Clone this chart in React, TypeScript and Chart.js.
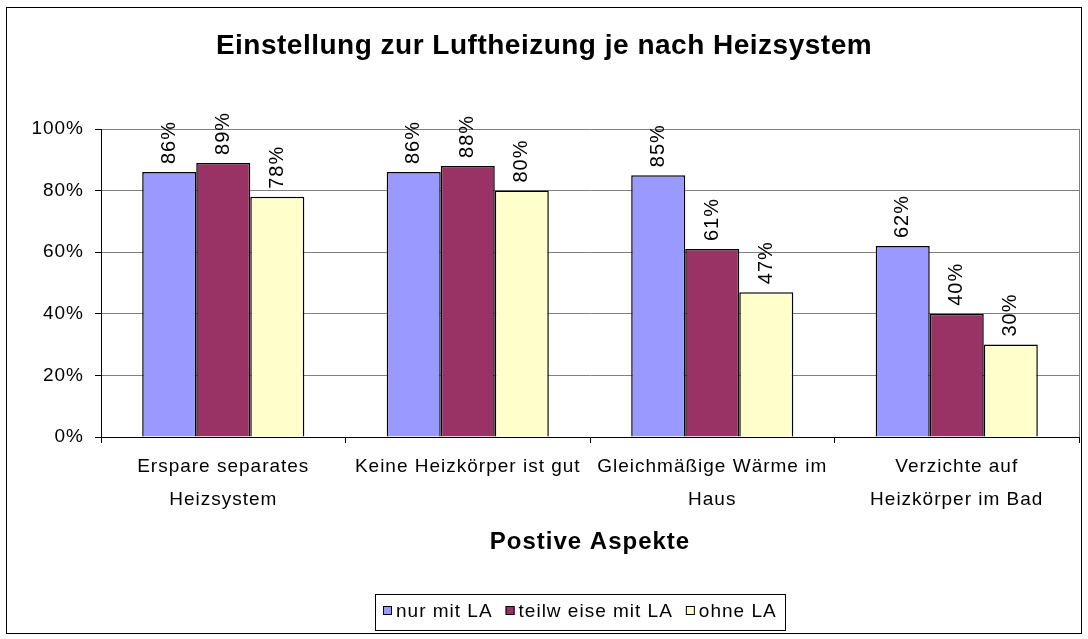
import React, { useEffect, useRef } from "react";
import { Chart, registerables } from "chart.js";

Chart.register(...registerables);

const categories: string[][] = [
  ["Erspare separates", "Heizsystem"],
  ["Keine Heizkörper ist gut"],
  ["Gleichmäßige Wärme im", "Haus"],
  ["Verzichte auf", "Heizkörper im Bad"],
];
const seriesNames = ["nur mit LA", "teilw eise mit LA", "ohne LA"];
const nurMitLA = [86, 86, 85, 62];
const teilweiseMitLA = [89, 88, 61, 40];
const ohneLA = [78, 80, 47, 30];
const seriesColors = ["#9999FF", "#993366", "#FFFFCC"];
const yTickStep = 20;
const yMax = 100;
const chartTitle = "Einstellung zur Luftheizung je nach Heizsystem";
const xAxisTitle = "Postive Aspekte";

const FONT = '"Liberation Sans", Arial, Helvetica, sans-serif';
const W = 1088;
const H = 639;
const LS = "1px";

const decorPlugin = {
  id: "decor",
  beforeUpdate(chart: any) {
    chart.ctx.letterSpacing = LS;
  },
  beforeDraw(chart: any) {
    const ctx = chart.ctx;
    ctx.letterSpacing = LS;
    ctx.save();
    ctx.fillStyle = "#fff";
    ctx.fillRect(0, 0, chart.width, chart.height);
    ctx.restore();
  },
  afterDatasetsDraw(chart: any) {
    const ctx = chart.ctx;
    chart.data.datasets.forEach((ds: any, i: number) => {
      const meta = chart.getDatasetMeta(i);
      meta.data.forEach((bar: any, j: number) => {
        ctx.save();
        ctx.translate(bar.x, bar.y - 8);
        ctx.rotate(-Math.PI / 2);
        ctx.font = `20px ${FONT}`;
        ctx.letterSpacing = LS;
        ctx.textAlign = "left";
        ctx.textBaseline = "middle";
        ctx.fillStyle = "#000";
        ctx.fillText(`${ds.data[j]}%`, 0, 0);
        ctx.restore();
      });
    });
  },
  afterDraw(chart: any) {
    const ctx = chart.ctx;
    const area = chart.chartArea;
    ctx.save();
    // plot area right border
    ctx.strokeStyle = "#808080";
    ctx.lineWidth = 1;
    ctx.beginPath();
    ctx.moveTo(Math.round(area.right) + 0.5, area.top);
    ctx.lineTo(Math.round(area.right) + 0.5, area.bottom);
    ctx.stroke();

    // title
    ctx.font = `bold 28px ${FONT}`;
    ctx.letterSpacing = "0.5px";
    ctx.textAlign = "center";
    ctx.textBaseline = "middle";
    ctx.fillStyle = "#000";
    ctx.fillText(chartTitle, W / 2, 46);

    // legend
    ctx.font = `19px ${FONT}`;
    ctx.letterSpacing = LS;
    ctx.textAlign = "left";
    const box = 9;
    const gapBT = 4;
    const gapItems = 13;
    const widths = seriesNames.map((n) => ctx.measureText(n).width);
    const total =
      widths.reduce((a, w) => a + box + gapBT + w, 0) + gapItems * (seriesNames.length - 1);
    const pad = 8;
    const legendCenter = 580;
    let x = Math.round(legendCenter - total / 2);
    ctx.strokeStyle = "#000";
    ctx.strokeRect(x - pad + 0.5, 594.5, Math.round(total + 2 * pad), 36);
    const cy = 612;
    seriesNames.forEach((n, i) => {
      ctx.fillStyle = seriesColors[i];
      ctx.fillRect(x, cy - 6, box, box);
      ctx.strokeStyle = "#000";
      ctx.strokeRect(x + 0.5, cy - 6 + 0.5, box - 1, box - 1);
      ctx.fillStyle = "#000";
      ctx.fillText(n, x + box + gapBT, cy);
      x += box + gapBT + widths[i] + gapItems;
    });

    // outer border
    ctx.strokeStyle = "#000";
    ctx.lineWidth = 1;
    ctx.strokeRect(6.5, 7.5, 1075, 626);
    ctx.restore();
  },
};

export default function App() {
  const ref = useRef<HTMLCanvasElement>(null);
  useEffect(() => {
    if (!ref.current) return;
    Chart.defaults.font.family = FONT;
    Chart.defaults.color = "#000";
    const chart = new Chart(ref.current, {
      type: "bar",
      data: {
        labels: categories,
        datasets: [nurMitLA, teilweiseMitLA, ohneLA].map((d, i) => ({
          label: seriesNames[i],
          data: d,
          backgroundColor: seriesColors[i],
          borderColor: "#000",
          borderWidth: 1.5,
          categoryPercentage: 0.663,
          barPercentage: 1,
        })),
      },
      options: {
        responsive: false,
        animation: false,
        devicePixelRatio: 1,
        layout: { padding: { top: 129, bottom: 79, left: 0, right: 9 } },
        plugins: {
          legend: { display: false },
          title: { display: false },
          tooltip: { enabled: false },
        },
        scales: {
          x: {
            grid: {
              offset: true,
              drawOnChartArea: false,
              drawTicks: true,
              tickLength: 6,
              color: "#000",
              tickColor: "#000",
            },
            border: { display: true, color: "#000", width: 1 },
            ticks: {
              font: { size: 19, lineHeight: "33px" as any },
              padding: 7.5,
              maxRotation: 0,
              autoSkip: false,
              color: "#000",
            },
            title: {
              display: true,
              text: xAxisTitle,
              font: { size: 24, weight: "bold" },
              color: "#000",
              padding: { top: 4, bottom: 3 },
            },
            afterFit: (s: any) => {
              s.height = 123;
            },
          },
          y: {
            min: 0,
            max: yMax,
            grid: {
              color: "#808080",
              tickColor: "#000",
              tickLength: 6,
              drawTicks: true,
            },
            border: { display: true, color: "#000", width: 1 },
            ticks: {
              stepSize: yTickStep,
              font: { size: 19 },
              padding: 11,
              color: "#000",
              callback: (v: any) => `${v}%`,
            },
            afterFit: (s: any) => {
              s.width = 101;
            },
          },
        },
      },
      plugins: [decorPlugin],
    });
    return () => chart.destroy();
  }, []);
  return (
    <div style={{ position: "absolute", left: 0, top: 0, width: W, height: H, background: "#fff" }}>
      <canvas ref={ref} width={W} height={H} style={{ display: "block" }} />
    </div>
  );
}
